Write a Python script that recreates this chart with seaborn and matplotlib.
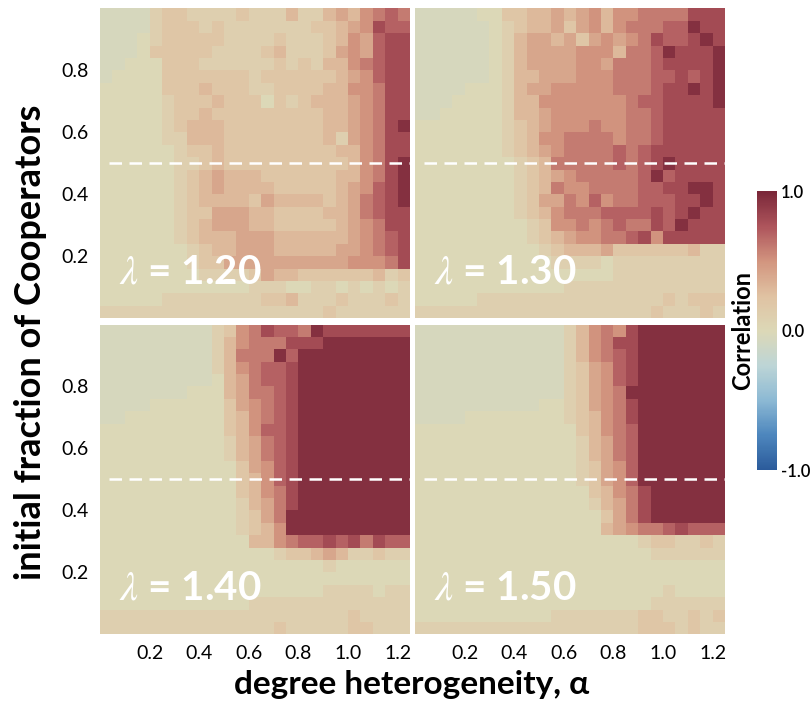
import numpy as np
import pandas as pd
import seaborn as sns
import matplotlib
matplotlib.use("Agg")
import matplotlib.pyplot as plt
from matplotlib.colors import LinearSegmentedColormap

# grid centres: degree heterogeneity (columns) and initial fraction of cooperators (rows, top -> bottom)
alpha_values = [0.025, 0.075, 0.125, 0.175, 0.225, 0.275, 0.325, 0.375, 0.425, 0.475,
                0.525, 0.575, 0.625, 0.675, 0.725, 0.775, 0.825, 0.875, 0.925, 0.975,
                1.025, 1.075, 1.125, 1.175, 1.225]
fraction_values = [0.98, 0.94, 0.90, 0.86, 0.82, 0.78, 0.74, 0.70, 0.66, 0.62,
                   0.58, 0.54, 0.50, 0.46, 0.42, 0.38, 0.34, 0.30, 0.26, 0.22,
                   0.18, 0.14, 0.10, 0.06, 0.02]
lambdas = ["1.20", "1.30", "1.40", "1.50"]

# correlation, one char per cell ('n' = slightly negative, digit = tenths)
level = {"n": -0.05, "0": 0.0, "1": 0.1, "2": 0.2, "3": 0.3, "4": 0.4,
         "5": 0.5, "6": 0.6, "7": 0.7, "8": 0.8, "9": 0.95}

corr_120 = [
    "nnnn1 22111 12111 31134 35676",
    "nnnn1 22212 11111 11223 45877",
    "nnn01 22222 11112 11123 54788",
    "nnn02 22221 11123 11124 54788",
    "nn000 22211 11112 12133 56788",
    "n0000 22222 22122 22223 45788",
    "00000 22232 22112 22233 55688",
    "00000 12223 22202 12333 45688",
    "00000 12232 22222 22233 45688",
    "00000 12333 22222 22233 45689",
    "00000 11333 22222 22231 45688",
    "00000 01223 22222 22223 35688",
    "00000 01123 22222 22222 35689",
    "00000 01234 33322 22223 35689",
    "00000 01234 33332 22223 45789",
    "00000 01233 33243 33323 46789",
    "00000 01224 44332 22233 46788",
    "00000 01234 44332 22223 45688",
    "00000 01233 34443 33333 45678",
    "00000 00123 34443 33334 45678",
    "00000 00122 44444 44444 55568",
    "00000 00011 11243 32222 22312",
    "00000 00000 00111 00110 10101",
    "00000 11111 11122 31112 11121",
    "11111 11111 11111 11121 11111",
]
corr_130 = [
    "nnnnn 00223 34345 35566 66888",
    "nnnnn n0123 34245 35666 77988",
    "nnnnn n0134 43424 54568 77898",
    "nnnnn n0134 44455 53667 98889",
    "nnnnn n0134 44455 46667 88889",
    "nnnnn n0133 44455 56667 78789",
    "nnnn0 00134 45555 56667 88989",
    "nnn00 00133 55555 55677 88889",
    "nn000 00133 45555 55667 88888",
    "00000 00123 45556 55667 88888",
    "00000 00123 55666 65667 88888",
    "00000 00123 45666 67678 88888",
    "00000 00012 36666 67678 98888",
    "00000 00012 34566 66679 78888",
    "00000 00012 36556 66677 88998",
    "00000 00012 44657 56677 78898",
    "00000 00012 35666 77778 78988",
    "00000 00001 25565 67668 79888",
    "00000 00001 23455 66785 88888",
    "00000 00000 12333 42222 22311",
    "00000 00000 01111 01111 11111",
    "00000 00000 00000 01111 11111",
    "00000 00000 00111 11111 11111",
    "00000 11111 11111 11111 21222",
    "11111 11111 11111 11112 11121",
]
corr_140 = [
    "nnnnn nnnn1 25687 76988 88888",
    "nnnnn nnnn1 35666 88899 99999",
    "nnnnn nnnn1 36669 79999 99999",
    "nnnnn nnnn1 35677 89999 99999",
    "nnnnn nnnn0 34677 89999 99999",
    "nnnnn nn000 34667 89999 99999",
    "nnnn0 00000 24567 89999 99999",
    "nn000 00000 23567 89999 99999",
    "00000 00000 23577 89999 99999",
    "00000 00000 13467 89999 99999",
    "00000 00000 13467 89999 99999",
    "00000 00000 02457 89999 99999",
    "00000 00000 02357 89999 99999",
    "00000 00000 02356 89999 99999",
    "00000 00000 01346 89999 99999",
    "00000 00000 01246 99999 99999",
    "00000 00000 01235 99999 99999",
    "00000 00000 00335 67787 86877",
    "00000 00000 00001 22343 11211",
    "00000 00000 00000 00010 00000",
    "00000 00000 00000 00000 00000",
    "00000 00000 00000 00011 11011",
    "00000 00000 00111 11111 11111",
    "11111 11111 11111 11111 21111",
    "11111 11111 11112 11111 22111",
]
corr_150 = [
    "nnnnn nnnnn nn135 65899 99999",
    "nnnnn nnnnn nn135 68899 99999",
    "nnnnn nnnnn nn135 67899 99999",
    "nnnnn nnnnn nn124 57899 99999",
    "nnnnn nnnnn nn124 57899 99999",
    "nnnnn nnnnn nn124 56999 99999",
    "nnnnn nnnnn 00124 56899 99999",
    "nnnn0 00000 00123 56899 99999",
    "00000 00000 00023 56799 99999",
    "00000 00000 00013 46799 99999",
    "00000 00000 00013 46799 99999",
    "00000 00000 00012 45799 99999",
    "00000 00000 00012 45799 99999",
    "00000 00000 00002 35689 99999",
    "00000 00000 00001 34689 99999",
    "00000 00000 00000 24689 99999",
    "00000 00000 00000 34566 78777",
    "00000 00000 00000 00012 21121",
    "00000 00000 00000 00001 11111",
    "00000 00000 00000 00000 00000",
    "00000 00000 00000 00000 00000",
    "00000 00000 00000 00000 10000",
    "00000 00000 00000 00001 11111",
    "00000 00000 01111 11122 11212",
    "11111 11111 11111 11122 21211",
]


def to_frame(rows):
    cells = [[level[ch] for ch in r.replace(" ", "")] for r in rows]
    for c in cells:
        assert len(c) == len(alpha_values)
    return pd.DataFrame(cells, index=fraction_values, columns=alpha_values)


panels = [to_frame(p) for p in (corr_120, corr_130, corr_140, corr_150)]

cmap = LinearSegmentedColormap.from_list("corr", [
    (0.0, "#2b5b9b"), (0.125, "#4d86bd"), (0.25, "#8cb9d4"), (0.375, "#bdd5d6"),
    (0.5, "#dcd8b7"), (0.625, "#e0c2a2"), (0.75, "#d2957f"), (0.875, "#ae555c"),
    (1.0, "#7a2739")])

sns.set_theme(style="white")
plt.rcParams["font.family"] = ["Lato", "DejaVu Sans"]
plt.rcParams["mathtext.fontset"] = "stix"
plt.rcParams["text.color"] = "black"
plt.rcParams["xtick.labelcolor"] = "black"
plt.rcParams["ytick.labelcolor"] = "black"

fig = plt.figure(figsize=(8.11, 7.04), dpi=100)
boxes = [[0.1233, 0.548, 0.3822, 0.440], [0.5117, 0.548, 0.3822, 0.440],
         [0.1233, 0.099, 0.3822, 0.440], [0.5117, 0.099, 0.3822, 0.440]]

# value -> heatmap cell coordinate
a_step = alpha_values[1] - alpha_values[0]
a_origin = alpha_values[0] - a_step / 2
f_step = fraction_values[0] - fraction_values[1]
f_top = fraction_values[0] + f_step / 2

xt = [0.2, 0.4, 0.6, 0.8, 1.0, 1.2]
yt = [0.2, 0.4, 0.6, 0.8]

for i, (df, lam, box) in enumerate(zip(panels, lambdas, boxes)):
    ax = fig.add_axes(box)
    sns.heatmap(df, ax=ax, cmap=cmap, vmin=-1, vmax=1, cbar=False,
                xticklabels=False, yticklabels=False)
    ax.axhline((f_top - 0.5) / f_step, xmin=0.03, xmax=1, color="white",
               lw=1.8, ls=(0, (5, 3)))
    ax.set_xticks([(v - a_origin) / a_step for v in xt])
    ax.set_yticks([(f_top - v) / f_step for v in yt])
    ax.set_xticks(np.arange(0, len(alpha_values) + 1), minor=True)
    ax.set_yticks(np.arange(0, len(fraction_values) + 1), minor=True)
    ax.set_xticklabels([f"{v:.1f}" for v in xt] if i >= 2 else [])
    ax.set_yticklabels([f"{v:.1f}" for v in yt] if i % 2 == 0 else [])
    ax.tick_params(which="both", direction="in", color="white", length=3,
                   width=0.8, top=True, right=True, bottom=True, left=True,
                   labelsize=14, pad=8, labelcolor="black")
    ax.set_xlabel("")
    ax.set_ylabel("")
    ax.text(0.06, 0.15, r"$\lambda$ = " + lam, transform=ax.transAxes,
            color="white", fontsize=29, fontweight="bold", va="center", ha="left")

cax = fig.add_axes([0.933, 0.332, 0.025, 0.396])
cb = fig.colorbar(ax.collections[0], cax=cax, ticks=[-1, 0, 1])
cb.outline.set_visible(False)
cax.set_yticklabels(["-1.0", "0.0", "1.0"], fontweight="semibold")
cax.tick_params(length=0, labelsize=12, pad=3, labelcolor="black")
cb.set_label("Correlation", fontweight="bold", fontsize=17, labelpad=2, color="black")
cax.yaxis.set_label_position("left")

fig.text(0.508, 0.027, "degree heterogeneity, α", ha="center", va="center",
         fontsize=24, fontweight="bold", color="black")
fig.text(0.037, 0.514, "initial fraction of Cooperators", ha="center",
         va="center", rotation=90, fontsize=26, fontweight="bold", color="black")

fig.savefig("out.png", dpi=100)
